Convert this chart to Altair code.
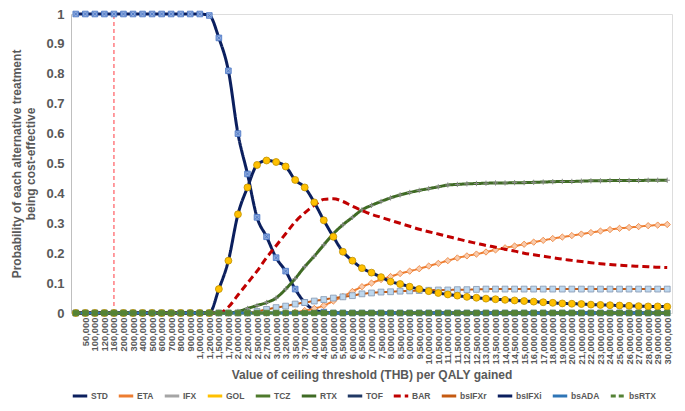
import altair as alt
import pandas as pd

CATS = ["0", "50,000", "100,000", "120,000", "160,000", "200,000", "300,000", "400,000",
        "500,000", "600,000", "700,000", "800,000", "900,000", "1,000,000", "1,200,000",
        "1,500,000", "1,700,000", "2,000,000", "2,200,000", "2,500,000", "2,700,000",
        "3,000,000", "3,200,000", "3,500,000", "3,700,000", "4,000,000", "4,500,000",
        "5,000,000", "5,500,000", "6,000,000", "6,500,000", "7,000,000", "7,500,000",
        "8,000,000", "8,500,000", "9,000,000", "9,500,000", "10,000,000", "10,500,000",
        "11,000,000", "11,500,000", "12,000,000", "12,500,000", "13,000,000", "13,500,000",
        "14,000,000", "14,500,000", "15,000,000", "16,000,000", "17,000,000", "18,000,000",
        "19,000,000", "20,000,000", "21,000,000", "22,000,000", "23,000,000", "24,000,000",
        "25,000,000", "26,000,000", "27,000,000", "28,000,000", "29,000,000", "30,000,000"]

THRESHOLD = "160,000"

STD = [1, 1, 1, 1, 1, 1, 1, 1, 1, 1, 1, 1, 1, 1, 0.995, 0.92, 0.81, 0.6, 0.465, 0.32,
       0.255, 0.185, 0.14, 0.08, 0.035, 0.01, 0.003, 0, 0, 0, 0, 0, 0, 0, 0, 0, 0, 0, 0, 0,
       0, 0, 0, 0, 0, 0, 0, 0, 0, 0, 0, 0, 0, 0, 0, 0, 0, 0, 0, 0, 0, 0, 0]
ETA = [0, 0, 0, 0, 0, 0, 0, 0, 0, 0, 0, 0, 0, 0, 0, 0, 0, 0, 0, 0, 0, 0, 0, 0.003, 0.008,
       0.015, 0.025, 0.04, 0.055, 0.072, 0.088, 0.1, 0.112, 0.122, 0.132, 0.14, 0.148,
       0.157, 0.166, 0.175, 0.184, 0.191, 0.197, 0.204, 0.211, 0.218, 0.224, 0.23, 0.237,
       0.243, 0.249, 0.254, 0.259, 0.264, 0.269, 0.274, 0.279, 0.283, 0.286, 0.289, 0.292,
       0.294, 0.296]
IFX = [0, 0, 0, 0, 0, 0, 0, 0, 0, 0, 0, 0, 0, 0, 0, 0, 0, 0, 0, 0, 0, 0, 0, 0, 0, 0, 0,
       0, 0, 0, 0, 0, 0, 0, 0, 0, 0, 0, 0, 0, 0, 0, 0, 0, 0, 0, 0, 0, 0, 0, 0, 0, 0, 0, 0,
       0, 0, 0, 0, 0, 0, 0, 0]
GOL = [0, 0, 0, 0, 0, 0, 0, 0, 0, 0, 0, 0, 0, 0, 0, 0, 0, 0, 0, 0, 0, 0, 0, 0, 0, 0, 0,
       0, 0, 0, 0, 0, 0, 0, 0, 0, 0, 0, 0, 0, 0, 0, 0, 0, 0, 0, 0, 0, 0, 0, 0, 0, 0, 0, 0,
       0, 0, 0, 0, 0, 0, 0, 0]
TCZ = [0, 0, 0, 0, 0, 0, 0, 0, 0, 0, 0, 0, 0, 0, 0, 0, 0, 0, 0, 0, 0, 0, 0, 0, 0, 0, 0,
       0, 0, 0, 0, 0, 0, 0, 0, 0, 0, 0, 0, 0, 0, 0, 0, 0, 0, 0, 0, 0, 0, 0, 0, 0, 0, 0, 0,
       0, 0, 0, 0, 0, 0, 0, 0]
RTX = [0, 0, 0, 0, 0, 0, 0, 0, 0, 0, 0, 0, 0, 0, 0, 0, 0, 0.005, 0.015, 0.025, 0.035,
       0.05, 0.08, 0.115, 0.155, 0.19, 0.228, 0.265, 0.295, 0.32, 0.345, 0.36, 0.373,
       0.385, 0.395, 0.403, 0.41, 0.416, 0.422, 0.428, 0.43, 0.432, 0.433, 0.434, 0.435,
       0.435, 0.436, 0.436, 0.437, 0.438, 0.439, 0.44, 0.44, 0.441, 0.442, 0.442, 0.443,
       0.443, 0.443, 0.443, 0.444, 0.444, 0.444]
TOF = [0, 0, 0, 0, 0, 0, 0, 0, 0, 0, 0, 0, 0, 0, 0, 0, 0, 0, 0, 0, 0, 0, 0, 0, 0, 0, 0,
       0, 0, 0, 0, 0, 0, 0, 0, 0, 0, 0, 0, 0, 0, 0, 0, 0, 0, 0, 0, 0, 0, 0, 0, 0, 0, 0, 0,
       0, 0, 0, 0, 0, 0, 0, 0]
BAR = [0, 0, 0, 0, 0, 0, 0, 0, 0, 0, 0, 0, 0, 0, 0, 0, 0.02, 0.06, 0.1, 0.14, 0.185,
       0.225, 0.265, 0.305, 0.335, 0.36, 0.38, 0.382, 0.373, 0.357, 0.343, 0.33, 0.32,
       0.31, 0.3, 0.29, 0.28, 0.272, 0.264, 0.256, 0.248, 0.24, 0.233, 0.226, 0.22, 0.213,
       0.207, 0.2, 0.195, 0.19, 0.185, 0.18, 0.176, 0.172, 0.168, 0.165, 0.162, 0.16,
       0.158, 0.156, 0.155, 0.153, 0.152]
bsIFXr = [0, 0, 0, 0, 0, 0, 0, 0, 0, 0, 0, 0, 0, 0, 0, 0, 0, 0, 0, 0.005, 0.012, 0.018,
          0.023, 0.03, 0.035, 0.04, 0.045, 0.05, 0.054, 0.058, 0.064, 0.067, 0.07, 0.071,
          0.073, 0.074, 0.075, 0.076, 0.077, 0.077, 0.078, 0.078, 0.079, 0.08, 0.08, 0.08,
          0.08, 0.08, 0.08, 0.08, 0.08, 0.08, 0.08, 0.08, 0.08, 0.08, 0.08, 0.08, 0.08,
          0.08, 0.08, 0.08, 0.08]
bsIFXi = [0, 0, 0, 0, 0, 0, 0, 0, 0, 0, 0, 0, 0, 0, 0, 0.08, 0.175, 0.33, 0.42, 0.495,
          0.51, 0.505, 0.49, 0.445, 0.42, 0.37, 0.31, 0.255, 0.205, 0.175, 0.15, 0.135,
          0.12, 0.105, 0.097, 0.088, 0.08, 0.073, 0.067, 0.062, 0.058, 0.054, 0.051, 0.048,
          0.046, 0.044, 0.042, 0.04, 0.038, 0.036, 0.034, 0.032, 0.031, 0.03, 0.028, 0.027,
          0.026, 0.025, 0.024, 0.023, 0.022, 0.022, 0.021]
bsADA = [0, 0, 0, 0, 0, 0, 0, 0, 0, 0, 0, 0, 0, 0, 0, 0, 0, 0, 0, 0, 0, 0, 0, 0, 0, 0, 0,
         0, 0, 0, 0, 0, 0, 0, 0, 0, 0, 0, 0, 0, 0, 0, 0, 0, 0, 0, 0, 0, 0, 0, 0, 0, 0, 0,
         0, 0, 0, 0, 0, 0, 0, 0, 0]
bsRTX = [0, 0, 0, 0, 0, 0, 0, 0, 0, 0, 0, 0, 0, 0, 0, 0, 0, 0, 0, 0, 0, 0, 0, 0, 0, 0, 0,
         0, 0, 0, 0, 0, 0, 0, 0, 0, 0, 0, 0, 0, 0, 0, 0, 0, 0, 0, 0, 0, 0, 0, 0, 0, 0, 0,
         0, 0, 0, 0, 0, 0, 0, 0, 0]

SERIES = ["STD", "ETA", "IFX", "GOL", "TCZ", "RTX", "TOF", "BAR", "bsIFXr", "bsIFXi", "bsADA", "bsRTX"]
VALUES = [STD, ETA, IFX, GOL, TCZ, RTX, TOF, BAR, bsIFXr, bsIFXi, bsADA, bsRTX]
COLORS = ["#0B1F5E", "#ED7D31", "#A5A5A5", "#FFC000", "#4E7A2C", "#3F6B24", "#203864",
          "#C00000", "#C55A11", "#0B1F5E", "#2E75B6", "#548235"]
DASHES = [[1, 0], [1, 0], [1, 0], [1, 0], [1, 0], [1, 0], [1, 0], [7, 4], [1, 0], [1, 0], [1, 0], [5, 3]]
WIDTHS = [3, 2, 2, 2, 3, 3, 2.5, 3, 2, 3, 2.5, 2.5]

X_SQUARE = "M-1,-1L1,-1L1,1L-1,1Z M-0.6,-0.6L0.6,0.6 M-0.6,0.6L0.6,-0.6"
PLUS = "M-1,0L1,0M0,-1L0,1"
MARKERS = {
    "STD": dict(shape=X_SQUARE, fill="#8FAADC", stroke="#4472C4", size=32, filled=True, strokeWidth=0.8),
    "ETA": dict(shape="diamond", fill="#F8CBAD", stroke="#ED7D31", size=40, filled=True, strokeWidth=0.8),
    "TCZ": dict(shape="triangle-up", fill="#9DC3E6", stroke="#5B9BD5", size=30, filled=True, strokeWidth=0.8),
    "RTX": dict(shape=PLUS, stroke="#8C8C8C", size=28, filled=False, strokeWidth=1),
    "bsIFXr": dict(shape="square", fill="#BDD7EE", stroke="#8497B0", size=34, filled=True, strokeWidth=0.8),
    "bsIFXi": dict(shape="circle", fill="#FFC000", stroke="#BF9000", size=48, filled=True, strokeWidth=0.8),
    "bsRTX": dict(shape="square", fill="#548235", stroke="#548235", size=30, filled=True, strokeWidth=0.8),
}

rows = []
for s, vals in zip(SERIES, VALUES):
    for c, v in zip(CATS, vals):
        rows.append({"series": s, "cat": c, "value": v})
df = pd.DataFrame(rows)

FONT = "Liberation Sans"
GREY = "#595959"

x_axis = alt.Axis(
    title="Value of ceiling threshold (THB) per QALY gained",
    labelAngle=270, labelFontSize=9.4, labelFont=FONT, labelFontWeight="bold",
    labelColor=GREY, labelPadding=4, ticks=False, domain=False,
    labelExpr="datum.value == '0' ? '' : datum.label",
    titleFontSize=12, titleFont=FONT, titleFontWeight="bold", titleColor=GREY,
    titlePadding=6, labelOverlap=False,
)
y_axis = alt.Axis(
    title=["Probability of each alternative treatment", "being cost-effective"],
    values=[0, 0.1, 0.2, 0.3, 0.4, 0.5, 0.6, 0.7, 0.8, 0.9, 1.0], format=".1~f",
    labelFontSize=13, labelFont=FONT, labelFontWeight="bold", labelColor=GREY,
    labelPadding=7, ticks=False, grid=False, domainColor="#BFBFBF",
    labelOverlap=False, labelBound=False,
    titleFontSize=12, titleFont=FONT, titleFontWeight="bold", titleColor=GREY,
    titlePadding=8,
)
x_scale = alt.Scale(type="point", padding=0.5)
y_scale = alt.Scale(domain=[0, 1])
x_enc = alt.X("cat:N", sort=CATS, scale=x_scale, axis=x_axis)
y_enc = alt.Y("value:Q", scale=y_scale, axis=y_axis)

legend = alt.Legend(
    title=None, orient="bottom", direction="horizontal", columns=12,
    symbolType="stroke", symbolStrokeWidth=3, symbolSize=210,
    labelFontSize=8.5, labelFont=FONT, labelFontWeight="bold", labelColor=GREY,
    columnPadding=4, symbolOffset=0, offset=6, labelOffset=2,
)
color_enc = alt.Color("series:N", scale=alt.Scale(domain=SERIES, range=COLORS), legend=legend)
dash_enc = alt.StrokeDash("series:N", scale=alt.Scale(domain=SERIES, range=DASHES), legend=legend)

base = alt.Chart(df)

rule = alt.Chart(pd.DataFrame({"cat": [THRESHOLD], "lo": [0], "hi": [1]})).mark_rule(
    color="#FF7C80", strokeDash=[4, 3], strokeWidth=1.5
).encode(x=x_enc, y=alt.Y("lo:Q", scale=y_scale, axis=y_axis), y2="hi:Q")

layers = [rule]
for s, w in zip(SERIES, WIDTHS):
    sub = base.transform_filter(alt.datum.series == s)
    layers.append(
        sub.mark_line(strokeWidth=w, interpolate="monotone").encode(
            x=x_enc, y=y_enc, color=color_enc, strokeDash=dash_enc
        )
    )
    if s in MARKERS:
        layers.append(
            sub.mark_point(opacity=1, **MARKERS[s]).encode(x=x_enc, y=y_enc)
        )

chart = alt.layer(*layers).properties(
    width=667, height=394,
    autosize=alt.AutoSizeParams(type="fit", contains="padding"),
    padding={"left": 2, "right": 2, "top": 0, "bottom": 0},
).configure_view(stroke="#D9D9D9").configure(background="white")

chart.save("out.html", embed_options={"renderer": "svg", "actions": False})
